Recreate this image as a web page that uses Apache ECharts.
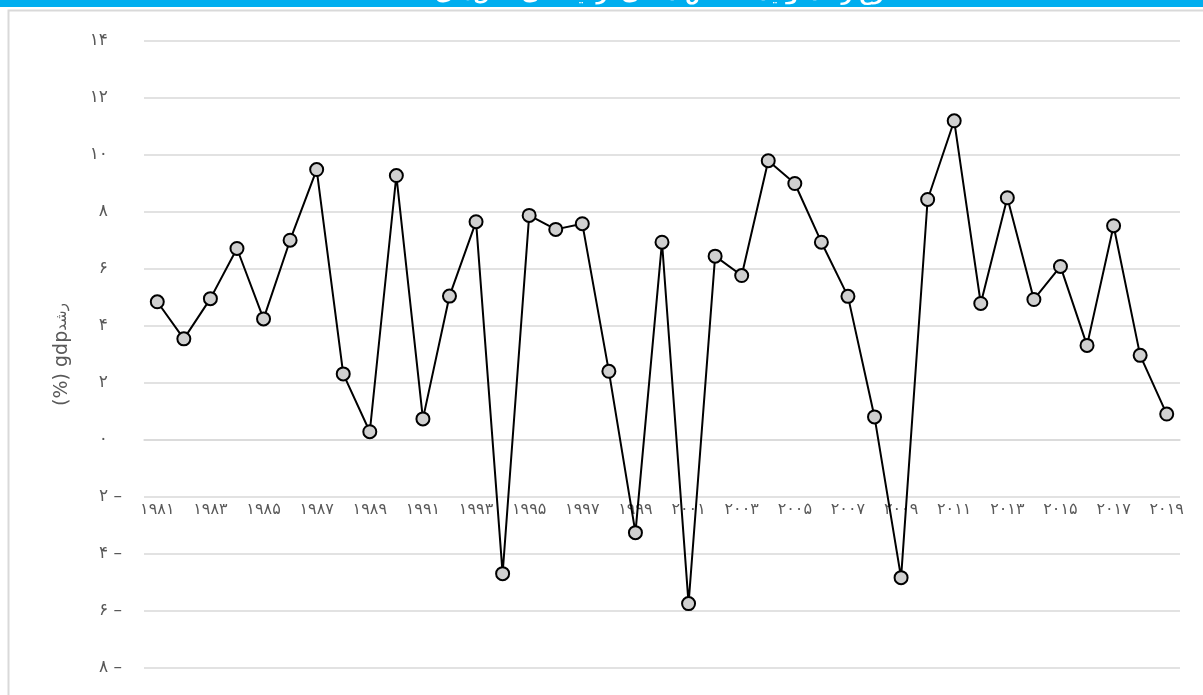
<!DOCTYPE html>
<html>
<head>
<meta charset="utf-8">
<script src="https://cdn.jsdelivr.net/npm/echarts@6/dist/echarts.min.js"></script>
<style>
html,body{margin:0;padding:0;background:#fff;}
#c{width:1203px;height:695px;}
</style>
</head>
<body>
<div id="c"></div>
<script>
const years = ['1981','1982','1983','1984','1985','1986','1987','1988','1989','1990',
  '1991','1992','1993','1994','1995','1996','1997','1998','1999','2000',
  '2001','2002','2003','2004','2005','2006','2007','2008','2009','2010',
  '2011','2012','2013','2014','2015','2016','2017','2018','2019'];
const growth = [4.85, 3.55, 4.96, 6.72, 4.25, 7.01, 9.49, 2.32, 0.29, 9.28,
  0.74, 5.05, 7.66, -4.69, 7.88, 7.39, 7.59, 2.41, -3.25, 6.94,
  -5.74, 6.45, 5.77, 9.80, 9.00, 6.94, 5.04, 0.81, -4.83, 8.44,
  11.20, 4.79, 8.50, 4.93, 6.09, 3.32, 7.52, 2.97, 0.91];
const yAxisNameLatin = '(%) gdp';
const yAxisNamePersian = 'رشد';
const titleText = 'نرخ رشد تولید ناخالص داخلی ترکیه طی سال‌های ۱۹۸۱ تا ۲۰۱۹';

const fa = s => String(s).replace(/\d/g, d => '۰۱۲۳۴۵۶۷۸۹'[d]);
const FONT = '"DejaVu Sans", "Noto Sans", sans-serif';

const chart = echarts.init(document.getElementById('c'));
chart.setOption({
  backgroundColor: '#fff',
  animation: false,
  graphic: [
    { type: 'rect', left: 0, top: 0, shape: { width: 1203, height: 7 }, style: { fill: '#00aeef' }, z: 10 },
    { type: 'rect', shape: { x: 8.5, y: 10.5, width: 1400, height: 900 }, style: { fill: 'none', stroke: '#d9d9d9', lineWidth: 2 }, z: 0 },
    { type: 'text', x: 600, y: 5, style: { text: titleText, fill: '#fff', font: 'bold 19px ' + FONT, align: 'center', verticalAlign: 'bottom' }, z: 11 }
  ],
  grid: { left: 144, right: 23, top: 41, bottom: 27, containLabel: false },
  xAxis: {
    type: 'category',
    data: years,
    boundaryGap: true,
    offset: -171,
    axisLine: { show: true, lineStyle: { color: '#d9d9d9', width: 1.5 } },
    axisTick: { show: false },
    axisLabel: {
      interval: 1,
      margin: 5,
      color: '#595959',
      fontSize: 16,
      fontFamily: FONT,
      formatter: v => fa(v)
    },
    splitLine: { show: false }
  },
  yAxis: {
    type: 'value',
    min: -8,
    max: 14,
    interval: 2,
    name: '{a|' + yAxisNameLatin + '}{b|' + yAxisNamePersian + '}',
    nameLocation: 'middle',
    nameGap: 72,
    nameTextStyle: {
      color: '#595959', fontSize: 19, fontFamily: FONT,
      rich: {
        a: { color: '#595959', fontSize: 19, fontFamily: FONT },
        b: { color: '#595959', fontSize: 15, fontFamily: FONT }
      }
    },
    axisLine: { show: false },
    axisTick: { show: false },
    axisLabel: {
      margin: 22,
      color: '#595959',
      fontSize: 17,
      fontFamily: FONT,
      formatter: v => v < 0 ? '{n|' + fa(Math.abs(v)) + '}{m| –}' : '{n|' + fa(v) + '}{g| }',
      rich: {
        n: { color: '#595959', fontSize: 17, fontFamily: FONT },
        m: { color: '#595959', fontSize: 17, fontFamily: FONT },
        g: { width: 14, fontSize: 17 }
      }
    },
    splitLine: { show: true, lineStyle: { color: '#d9d9d9', width: 1.5 } }
  },
  series: [{
    type: 'line',
    data: growth,
    symbol: 'circle',
    symbolSize: 13,
    lineStyle: { color: '#000', width: 2 },
    itemStyle: { color: '#d0d0d0', borderColor: '#000', borderWidth: 2 },
    z: 5
  }]
});
</script>
</body>
</html>
